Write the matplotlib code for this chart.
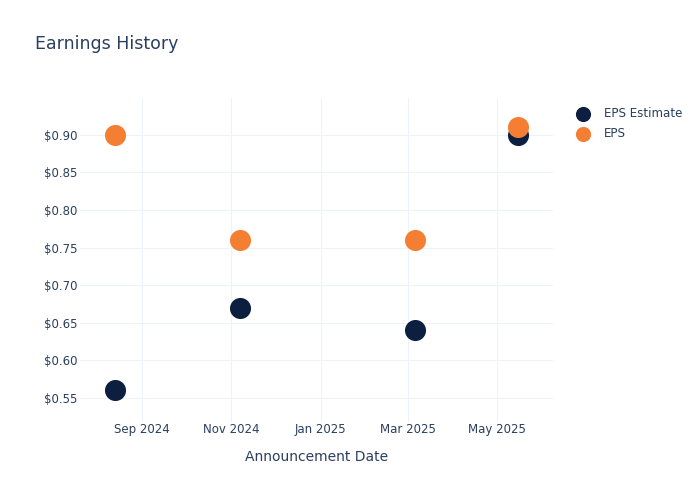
import matplotlib
matplotlib.use("Agg")
import matplotlib.pyplot as plt
import datetime as dt

dates = ["2024-08-14", "2024-11-07", "2025-03-06", "2025-05-15"]
eps_estimate = [0.56, 0.67, 0.64, 0.90]
eps_actual = [0.90, 0.76, 0.76, 0.91]
tick_dates = ["2024-09-01", "2024-11-01", "2025-01-01", "2025-03-01", "2025-05-01"]
tick_labels = ["Sep 2024", "Nov 2024", "Jan 2025", "Mar 2025", "May 2025"]
y_ticks = [0.55, 0.60, 0.65, 0.70, 0.75, 0.80, 0.85, 0.90]

text_color = "#2a3f5f"
grid_color = "#eef2f9"
navy = "#0c1f40"
orange = "#f47f33"

plt.rcParams['font.family'] = ['DejaVu Sans']

fig = plt.figure(figsize=(7, 5), dpi=100)
ax = fig.add_axes([80/700, 1-422/500, (553-80)/700, (422-98)/500])

x = [dt.datetime.strptime(d, "%Y-%m-%d") for d in dates]
ax.scatter(x, eps_estimate, s=230, color=navy, label="EPS Estimate", zorder=3, linewidths=0)
ax.scatter(x, eps_actual, s=230, color=orange, label="EPS", zorder=4, linewidths=0)

ax.set_xlim(dt.datetime(2024, 7, 21), dt.datetime(2025, 6, 8))
ax.set_ylim(0.518, 0.949)
ax.set_xticks([dt.datetime.strptime(d, "%Y-%m-%d") for d in tick_dates])
ax.set_xticklabels(tick_labels)
ax.set_yticks(y_ticks)
ax.set_yticklabels([f"${v:.2f}" for v in y_ticks])

for s in ax.spines.values():
    s.set_visible(False)
ax.grid(True, color=grid_color, linewidth=0.8)
ax.set_axisbelow(True)
ax.tick_params(axis='both', length=0, labelsize=8.5, colors=text_color)
ax.tick_params(axis='y', pad=2)
ax.tick_params(axis='x', pad=1)
ax.set_xlabel("Announcement Date", fontsize=10, color=text_color, labelpad=10)

fig.text(35/700, 1-44/500, "Earnings History", fontsize=12.5, color=text_color, va="center", ha="left")

leg = ax.legend(loc="upper left", bbox_to_anchor=(566/700, 1-102/500), bbox_transform=fig.transFigure,
                frameon=False, fontsize=8.6, labelcolor=text_color, handletextpad=0.75,
                borderaxespad=0, labelspacing=0.6, markerscale=0.72)

fig.savefig("out.png", dpi=100)
